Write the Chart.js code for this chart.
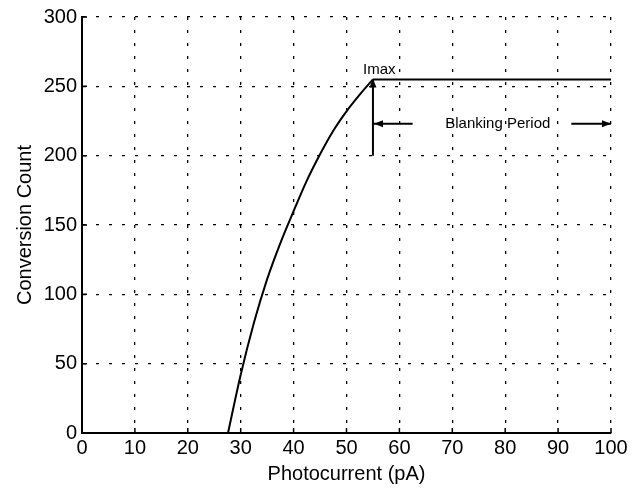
<!DOCTYPE html>
<html>
<head>
<meta charset="utf-8">
<script src="https://cdn.jsdelivr.net/npm/chart.js@4.4.0/dist/chart.umd.min.js"></script>
<style>
  html, body { margin: 0; padding: 0; background: #fff; }
  #wrap { width: 643px; height: 490px; }
</style>
</head>
<body>
<div id="wrap"><canvas id="c"></canvas></div>
<script>
// conversion curve
const curveX = [27.6, 30, 32.5, 35, 37.5, 40, 42.5, 45, 47.5, 50, 52.5, 55];
const curveY = [0, 42, 79.5, 111, 137, 160, 182, 201, 218, 232, 244, 255];
// saturated part (blanking period)
const flatX = [55, 100];
const flatY = [255, 255];
// Imax marker arrow
const imaxX = [55, 55];
const imaxY = [200, 255];
// blanking period arrows
const leftArrowX = [62.5, 55.2];
const rightArrowX = [92.5, 100];
const arrowY = 223;
const xTicks = [0, 10, 20, 30, 40, 50, 60, 70, 80, 90, 100];
const yTicks = [0, 50, 100, 150, 200, 250, 300];

const FONT = "'Liberation Sans', Arial, sans-serif";

const toPts = (xs, ys) => xs.map((x, i) => ({ x: x, y: Array.isArray(ys) ? ys[i] : ys }));

const lineDs = (data, smooth) => ({
    data: data,
    borderColor: "#000",
    borderWidth: 2,
    pointRadius: 0,
    fill: false,
    cubicInterpolationMode: smooth ? "monotone" : "default",
    tension: smooth ? 0.4 : 0,
});

// small inward tick marks, matlab style
const innerTicks = {
    id: "innerTicks",
    afterDraw(chart) {
        const { ctx, scales, chartArea } = chart;
        ctx.save();
        ctx.strokeStyle = "#000";
        ctx.lineWidth = 1.5;
        ctx.beginPath();
        xTicks.forEach((v) => {
            const x = scales.x.getPixelForValue(v);
            ctx.moveTo(x, chartArea.bottom);
            ctx.lineTo(x, chartArea.bottom - 5);
        });
        yTicks.forEach((v) => {
            const y = scales.y.getPixelForValue(v);
            ctx.moveTo(chartArea.left, y);
            ctx.lineTo(chartArea.left + 5, y);
        });
        ctx.stroke();
        ctx.restore();
    },
};

const annotations = {
    id: "annotations",
    afterDatasetsDraw(chart) {
        const { ctx, scales } = chart;
        const px = (v) => scales.x.getPixelForValue(v);
        const py = (v) => scales.y.getPixelForValue(v);
        const head = (x, y, dir) => {
            ctx.beginPath();
            if (dir === "up") {
                ctx.moveTo(x, y);
                ctx.lineTo(x - 3.5, y + 9);
                ctx.lineTo(x + 3.5, y + 9);
            } else if (dir === "left") {
                ctx.moveTo(x, y);
                ctx.lineTo(x + 9, y - 3.5);
                ctx.lineTo(x + 9, y + 3.5);
            } else {
                ctx.moveTo(x, y);
                ctx.lineTo(x - 9, y - 3.5);
                ctx.lineTo(x - 9, y + 3.5);
            }
            ctx.closePath();
            ctx.fill();
        };
        ctx.save();
        ctx.fillStyle = "#000";
        head(px(imaxX[1]), py(imaxY[1]) - 1, "up");
        head(px(leftArrowX[1]), py(arrowY), "left");
        head(px(rightArrowX[1]), py(arrowY), "right");
        ctx.font = "15px " + FONT;
        ctx.textBaseline = "middle";
        ctx.textAlign = "center";
        ctx.fillText("Imax", px(56.2), py(262));
        ctx.fillText("Blanking Period", px(78.6), py(arrowY));
        ctx.restore();
    },
};

new Chart(document.getElementById("c"), {
    type: "line",
    data: {
        datasets: [
            lineDs(toPts(curveX, curveY), true),
            lineDs(toPts(flatX, flatY)),
            lineDs(toPts(imaxX, imaxY)),
            lineDs(toPts(leftArrowX, arrowY)),
            lineDs(toPts(rightArrowX, arrowY)),
        ],
    },
    options: {
        responsive: true,
        maintainAspectRatio: false,
        animation: false,
        layout: { padding: { top: 16, right: 32, left: 0, bottom: 0 } },
        plugins: { legend: { display: false }, tooltip: { enabled: false } },
        scales: {
            x: {
                type: "linear",
                min: 0,
                max: 100,
                afterBuildTicks: (s) => { s.ticks = xTicks.map((v) => ({ value: v })); },
                border: { display: true, color: "#000", width: 2, dash: [3, 10] },
                grid: { color: "#000", lineWidth: 1.3, drawTicks: false },
                ticks: { color: "#000", padding: 3, font: { family: FONT, size: 20 } },
                title: { display: true, text: "Photocurrent (pA)", color: "#000", padding: { top: 0, bottom: 4 }, font: { family: FONT, size: 20 } },
                afterFit: (s) => { s.height = 57; },
            },
            y: {
                type: "linear",
                min: 0,
                max: 300,
                afterBuildTicks: (s) => { s.ticks = yTicks.map((v) => ({ value: v })); },
                border: { display: true, color: "#000", width: 2, dash: [3, 10] },
                grid: { color: "#000", lineWidth: 1.3, drawTicks: false },
                ticks: { color: "#000", padding: 5, font: { family: FONT, size: 20 } },
                title: { display: true, text: "Conversion Count", color: "#000", padding: { top: 13, bottom: 0 }, font: { family: FONT, size: 20 } },
                afterFit: (s) => { s.width = 82; },
            },
        },
    },
    plugins: [annotations, innerTicks],
});
</script>
</body>
</html>
